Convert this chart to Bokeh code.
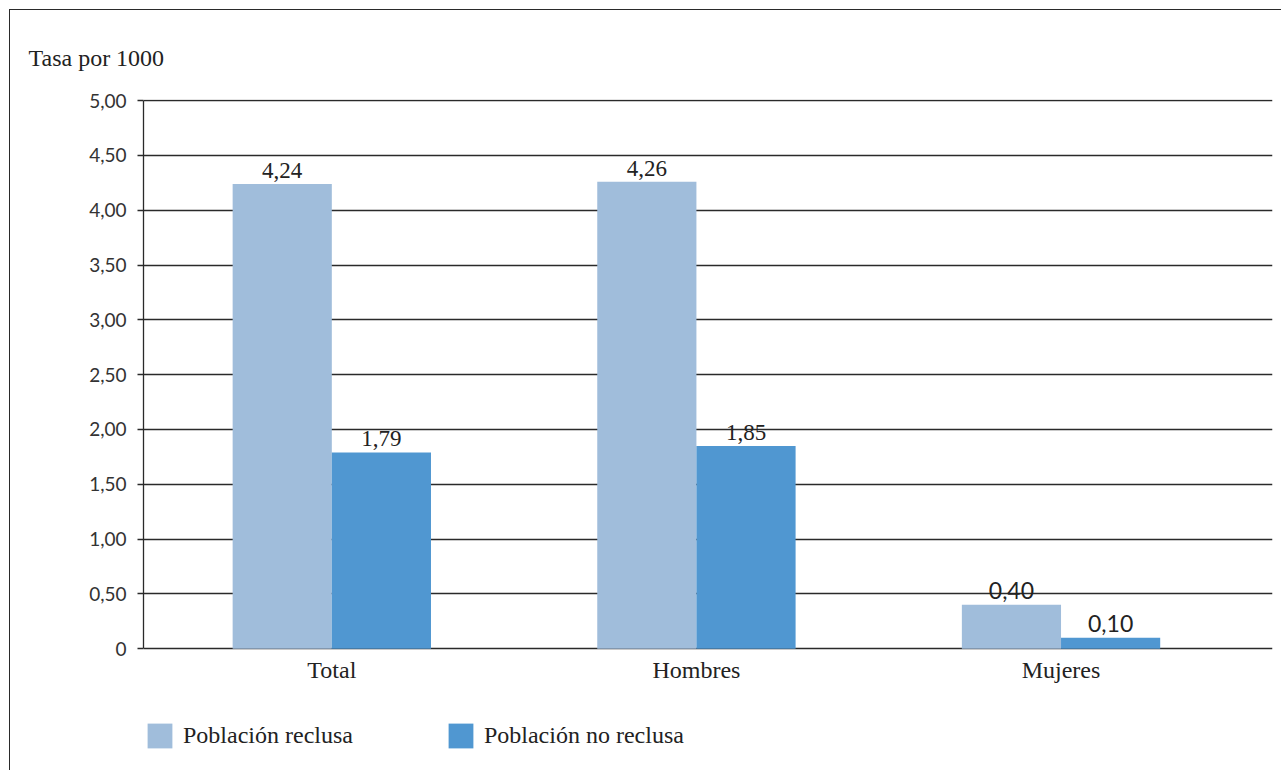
from bokeh.plotting import figure
from bokeh.models import (ColumnDataSource, Range1d, FixedTicker, Legend,
                          LegendItem, LabelSet)
from bokeh.transform import dodge
from bokeh.embed import file_html
from bokeh.resources import INLINE

categories = ["Total", "Hombres", "Mujeres"]
reclusa = [4.24, 4.26, 0.40]
no_reclusa = [1.79, 1.85, 0.10]
reclusa_labels = ["4,24", "4,26", "0,40"]
no_reclusa_labels = ["1,79", "1,85", "0,10"]
y_ticks = [0, 0.5, 1.0, 1.5, 2.0, 2.5, 3.0, 3.5, 4.0, 4.5, 5.0]
y_tick_labels = ["0", "0,50", "1,00", "1,50", "2,00", "2,50", "3,00", "3,50", "4,00", "4,50", "5,00"]
series_names = ["Población reclusa", "Población no reclusa"]
title_text = "Tasa por 1000"

SERIF = "Liberation Serif"
SERIF_Q = "'Liberation Serif', serif"
SANS = "Lato"
LIGHT = "#A0BDDB"
DARK = "#5097D1"
TXT = "#222222"

idx = list(range(len(categories)))
src = ColumnDataSource(dict(
    x=idx, reclusa=reclusa, no_reclusa=no_reclusa,
    rl=reclusa_labels, nl=no_reclusa_labels,
    rf=[SERIF, SERIF, SANS], nf=[SERIF, SERIF, SANS],
))

p = figure(width=1272, height=761, output_backend="svg", toolbar_location=None,
           x_range=Range1d(-0.5165, 2.58), y_range=Range1d(-1.12, 5.01),
           min_border_left=133, min_border_right=10, min_border_top=89,
           min_border_bottom=0, margin=(9, 0, 0, 9))
p.styles = {"border-top": "1.5px solid #2a2a2a", "border-left": "1.5px solid #2a2a2a",
            "box-sizing": "border-box"}
p.outline_line_color = None
p.background_fill_color = "white"
p.border_fill_color = "white"

bw = 0.272
r1 = p.vbar(x=dodge("x", -bw / 2), top="reclusa", width=bw, source=src,
            fill_color=LIGHT, line_color=None)
r2 = p.vbar(x=dodge("x", bw / 2), top="no_reclusa", width=bw, source=src,
            fill_color=DARK, line_color=None)

p.add_layout(LabelSet(x=dodge("x", -bw / 2), y="reclusa", text="rl", source=src,
                      text_font={"field": "rf"}, text_font_size="23px",
                      text_color=TXT, text_align="center",
                      text_baseline="alphabetic", y_offset=6))
p.add_layout(LabelSet(x=dodge("x", bw / 2), y="no_reclusa", text="nl", source=src,
                      text_font={"field": "nf"}, text_font_size="23px",
                      text_color=TXT, text_align="center",
                      text_baseline="alphabetic", y_offset=6))

# title
p.title.text = title_text
p.title.align = "left"
p.title.vertical_align = "bottom"
p.title.offset = -115
p.title.text_font = SERIF_Q
p.title.text_font_size = "24px"
p.title.text_font_style = "normal"
p.title.text_color = TXT
p.title.standoff = 58

# y axis
p.yaxis.ticker = FixedTicker(ticks=y_ticks)
p.yaxis.bounds = (0, 5)
p.yaxis.major_label_overrides = {t: l for t, l in zip(y_ticks, y_tick_labels)}
p.yaxis.major_label_text_font = SANS
p.yaxis.major_label_text_font_size = "19px"
p.yaxis.major_label_text_color = "#333333"
p.yaxis.axis_line_color = "#2a2a2a"
p.yaxis.axis_line_width = 1.3
p.yaxis.major_tick_line_color = "#2a2a2a"
p.yaxis.major_tick_line_width = 1.3
p.yaxis.major_tick_out = 6
p.yaxis.major_tick_in = 0
p.yaxis.minor_tick_line_color = None
p.yaxis.major_label_standoff = 11

# x axis, pinned at y = 0
p.xaxis.fixed_location = 0
p.xaxis.ticker = FixedTicker(ticks=idx)
p.xaxis.major_label_overrides = {i: c for i, c in zip(idx, categories)}
p.xaxis.major_label_text_font = SERIF
p.xaxis.major_label_text_font_size = "24px"
p.xaxis.major_label_text_color = TXT
p.xaxis.axis_line_color = None
p.xaxis.major_tick_line_color = None
p.xaxis.major_tick_out = 0
p.xaxis.major_tick_in = 0
p.xaxis.minor_tick_line_color = None
p.xaxis.major_label_standoff = 8

p.xgrid.grid_line_color = None
p.ygrid.ticker = FixedTicker(ticks=y_ticks)
p.ygrid.grid_line_color = "#2a2a2a"
p.ygrid.grid_line_width = 1.3

legend = Legend(items=[LegendItem(label=series_names[0], renderers=[r1]),
                       LegendItem(label=series_names[1], renderers=[r2])],
                orientation="horizontal", location=(1, 20),
                glyph_width=31, glyph_height=31, label_standoff=8,
                spacing=92, padding=0, margin=0,
                label_text_font=SERIF_Q, label_text_font_size="24px",
                label_text_color=TXT, border_line_color=None,
                background_fill_alpha=0)
p.add_layout(legend)

open("out.html", "w").write(file_html(p, INLINE))
